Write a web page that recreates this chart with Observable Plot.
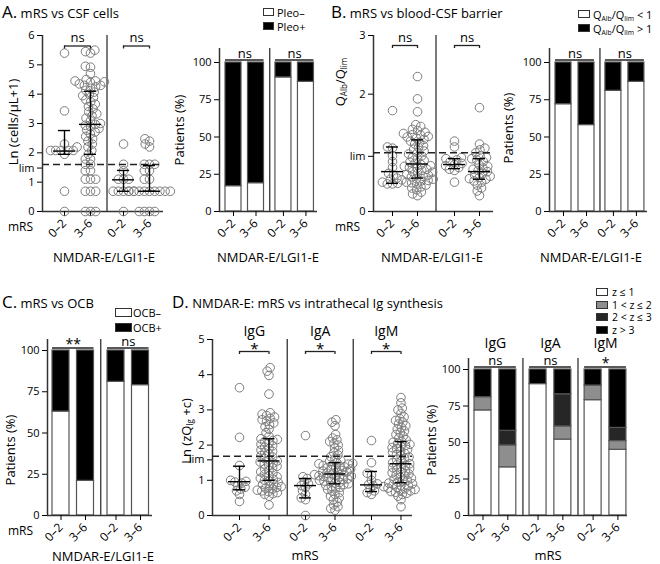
<!DOCTYPE html>
<html><head><meta charset="utf-8">
<script src="https://cdn.jsdelivr.net/npm/d3@7"></script>
<script src="https://cdn.jsdelivr.net/npm/@observablehq/plot@0.6"></script>
<style>
html,body{margin:0;padding:0;background:#fff;}
#fig{position:relative;width:660px;height:564px;overflow:hidden;font-family:"Open Sans",sans-serif;color:#000;}
.t{position:absolute;white-space:nowrap;line-height:1;}
.sw{position:absolute;box-sizing:border-box;border:1px solid #333;}
sub{font-size:0.62em;vertical-align:-0.3em;line-height:0;}
</style></head><body><div id="fig"></div>
<script>
// ---------------- DATA ----------------
const mrsLabels = ["0–2", "3–6"];
const igLabels = ["IgG", "IgA", "IgM"];

// A. Ln(cells/µL+1): NMDAR-E 0–2, NMDAR-E 3–6, LGI1-E 0–2, LGI1-E 3–6
const cellsN02 = [0, 0.69, 1.95, 2.08, 2.08, 2.08, 2.08, 2.08, 2.2, 2.3, 3.43, 5.4];
const cellsN36 = [0, 0, 0, 0.69, 0.69, 0.69, 1.1, 1.1, 1.1, 1.39, 1.39, 1.61, 1.61, 1.79, 1.79, 1.95,
  2.08, 2.2, 2.3, 2.4, 2.48, 2.56, 2.64, 2.71, 2.77, 2.83, 2.89, 2.94, 2.97,
  3.0, 3.09, 3.18, 3.26, 3.33, 3.4, 3.5, 3.58, 3.66, 3.74, 3.81, 3.89, 3.95, 4.0, 4.07,
  4.13, 4.2, 4.25, 4.3, 4.3, 4.35, 4.4, 4.42, 4.45, 4.45, 4.5, 4.7, 4.92, 4.95, 5.4, 5.45, 5.5];
const cellsL02 = [0, 0.69, 0.69, 0.69, 0.69, 0.69, 1.1, 1.1, 1.1, 1.39, 1.61, 2.3];
const cellsL36 = [0, 0, 0, 0, 0.69, 0.69, 0.69, 0.69, 0.69, 0.69, 0.69, 0.69, 0.69, 1.1, 1.1, 1.39, 1.39,
  1.61, 1.61, 1.61, 2.2, 2.3, 2.4, 2.48];
const cellsMedian = [2.06, 2.97, 1.08, 0.69];
const cellsQ1 = [1.95, 1.95, 0.69, 0.69];
const cellsQ3 = [2.76, 4.1, 1.4, 1.57];
const cellsLim = 1.6;
const cellsTicks = [0, 1, 2, 3, 4, 5, 6];
const cellsSig = ["ns", "ns"];

const pleoNeg = [17, 19, 90, 87];
const pleoPos = [83, 81, 10, 13];
const pleoSig = ["ns", "ns"];
const pleoLegend = ["Pleo–", "Pleo+"];

// B. QAlb/Qlim
const qN02 = [1.72, 1.1, 1.08, 0.95, 0.85, 0.75, 0.65, 0.62, 0.55, 0.5, 0.48, 0.47, 0.47];
const qN36 = [0.27, 0.3, 0.33, 0.37, 0.4, 0.42, 0.45, 0.47, 0.49, 0.5, 0.52, 0.53, 0.54, 0.55, 0.56,
  0.57, 0.59, 0.6, 0.62, 0.63, 0.65, 0.67, 0.68, 0.7, 0.72, 0.74, 0.75, 0.77, 0.78, 0.8,
  0.82, 0.84, 0.87, 0.9, 0.92, 0.95, 0.98, 1.0, 1.03, 1.06, 1.09, 1.12, 1.15, 1.18, 1.2,
  1.23, 1.25, 1.27, 1.28, 1.3, 1.31, 1.33, 1.35, 1.38, 1.4, 1.45, 1.48, 1.7, 1.92, 2.3];
const qL02 = [1.2, 1.1, 0.92, 0.9, 0.88, 0.85, 0.82, 0.8, 0.78, 0.75, 0.72, 0.7, 0.5];
const qL36 = [1.77, 1.15, 1.08, 1.05, 1.0, 0.95, 0.92, 0.9, 0.88, 0.85, 0.8, 0.77, 0.74, 0.72, 0.7,
  0.68, 0.65, 0.62, 0.6, 0.58, 0.56, 0.55, 0.52, 0.5, 0.45, 0.4, 0.35, 0.27];
const qMedian = [0.68, 0.81, 0.8, 0.68];
const qQ1 = [0.48, 0.57, 0.73, 0.55];
const qQ3 = [1.1, 1.22, 0.9, 0.9];
const qLim = 1.0;
const qTicks = [0, 2, 3];
const qSig = ["ns", "ns"];

const qBelow = [72, 58, 81, 87];
const qAbove = [28, 42, 19, 13];
const qBarSig = ["ns", "ns"];
const qLegend = ["Q<sub>Alb</sub>/Q<sub>lim</sub> &lt; 1", "Q<sub>Alb</sub>/Q<sub>lim</sub> &gt; 1"];

// C. OCB
const ocbNeg = [63, 21, 81, 79];
const ocbPos = [37, 79, 19, 21];
const ocbSig = ["**", "ns"];
const ocbLegend = ["OCB–", "OCB+"];

// D. Ln(zQIg + c): IgG 0–2, IgG 3–6, IgA 0–2, IgA 3–6, IgM 0–2, IgM 3–6
const igG02 = [3.63, 2.22, 1.42, 1.0, 0.97, 0.95, 0.92, 0.85, 0.8, 0.75, 0.7, 0.6, 0.4];
const igG36 = [0.3, 0.55, 0.6, 0.62, 0.65, 0.68, 0.7, 0.72, 0.75, 0.78, 0.8, 0.82, 0.85, 0.88, 0.9, 0.94, 0.98,
  1.0, 1.03, 1.06, 1.1, 1.13, 1.17, 1.2, 1.24, 1.28, 1.32, 1.36, 1.4, 1.43, 1.46, 1.49, 1.52, 1.55,
  1.58, 1.62, 1.66, 1.7, 1.74, 1.78, 1.82, 1.86, 1.9, 1.94, 1.98, 2.02, 2.06, 2.1, 2.13, 2.16, 2.18,
  2.25, 2.35, 2.45, 2.52, 2.58, 2.63, 2.68, 2.72, 2.76, 2.8, 2.84, 2.88, 2.92, 3.45, 3.98, 4.1, 4.2];
const igA02 = [2.27, 1.1, 1.05, 0.95, 0.9, 0.85, 0.8, 0.7, 0.6, 0.5, 0.45, 0];
const igA36 = [0.15, 0.2, 0.25, 0.3, 0.38, 0.45, 0.5, 0.55, 0.6, 0.65, 0.7, 0.74, 0.78, 0.8, 0.83, 0.86, 0.88,
  0.9, 0.92, 0.94, 0.96, 0.98, 1.0, 1.02, 1.04, 1.06, 1.08, 1.1, 1.11, 1.12, 1.13, 1.15, 1.16, 1.18,
  1.2, 1.22, 1.24, 1.26, 1.28, 1.3, 1.32, 1.34, 1.36, 1.38, 1.4, 1.42, 1.44, 1.46, 1.47, 1.48, 1.5,
  1.53, 1.57, 1.62, 1.67, 1.72, 1.78, 1.85, 1.92, 2.0, 2.05, 2.1, 2.15, 2.2, 2.3, 2.55, 2.65, 2.72];
const igM02 = [2.13, 1.5, 1.2, 1.15, 1.0, 0.9, 0.88, 0.85, 0.75, 0.7, 0.65, 0.6];
const igM36 = [0.25, 0.45, 0.55, 0.6, 0.63, 0.66, 0.68, 0.7, 0.72, 0.74, 0.76, 0.78, 0.8, 0.82, 0.84, 0.86, 0.88, 0.9, 0.92,
  0.95, 0.98, 1.0, 1.03, 1.06, 1.09, 1.12, 1.15, 1.18, 1.21, 1.24, 1.27, 1.3, 1.33, 1.36, 1.39, 1.42, 1.44, 1.47,
  1.5, 1.54, 1.58, 1.62, 1.66, 1.7, 1.73, 1.76, 1.8, 1.83, 1.87, 1.9, 1.93, 1.96, 1.99, 2.02, 2.05, 2.08, 2.1,
  2.15, 2.2, 2.25, 2.3, 2.35, 2.4, 2.45, 2.5, 2.55, 2.6, 2.65, 2.7, 2.75, 2.8, 2.9, 3.0, 3.05, 3.2, 3.35];
const igMedian = [0.96, 1.55, 0.85, 1.18, 0.87, 1.47];
const igQ1 = [0.73, 1.0, 0.5, 0.9, 0.68, 0.93];
const igQ3 = [1.4, 2.18, 1.05, 1.5, 1.25, 2.1];
const igLim = 1.68;
const igTicks = [0, 1, 2, 3, 4, 5];
const igSig = ["*", "*", "*"];

const zLe1 = [72, 33, 90, 52, 79, 45];
const z1to2 = [9, 15, 0, 9, 10, 6];
const z2to3 = [0, 10, 0, 22, 0, 9];
const zGt3 = [19, 42, 10, 17, 11, 40];
const zBarSig = ["ns", "ns", "*"];
const zLegend = ["z ≤ 1", "1 &lt; z ≤ 2", "2 &lt; z ≤ 3", "z &gt; 3"];

const pctTicks = [0, 25, 50, 75, 100];

// ---------------- HELPERS ----------------
const fig = document.getElementById("fig");
const plotStyle = {background: "transparent", overflow: "visible", fontFamily: '"Open Sans", sans-serif', fontSize: "12px", color: "#000"};

function txt(html, x, y, size = 13, anchor = "middle", rotate = 0) {
  const d = document.createElement("div");
  d.className = "t"; d.innerHTML = html;
  d.style.left = x + "px"; d.style.top = y + "px"; d.style.fontSize = size + "px";
  const ax = anchor === "start" ? "0" : anchor === "end" ? "-100%" : "-50%";
  d.style.transform = `translate(${ax},-50%)` + (rotate ? ` rotate(${rotate}deg)` : "");
  fig.appendChild(d);
}
function swatch(x, y, w, h, color) {
  const d = document.createElement("div");
  d.className = "sw";
  Object.assign(d.style, {left: x + "px", top: (y - h / 2) + "px", width: w + "px", height: h + "px", background: color});
  fig.appendChild(d);
}

function geom(cfg) {
  const pyu = (cfg.B - cfg.refPx) / cfg.refVal;
  const ymax = (cfg.B - cfg.Ttop) / pyu;
  const xmin = (cfg.L - cfg.first) / cfg.step, xmax = (cfg.R - cfg.first) / cfg.step;
  const pos = i => Math.floor(i / 2) * cfg.groupOff + (i % 2);
  const svgLeft = cfg.L - 48, svgTop = cfg.Ttop - 36;
  return {pyu, ymax, xmin, xmax, pos, svgLeft, svgTop, width: cfg.R + 12 - svgLeft, height: cfg.B + 44 - svgTop};
}

function swarm(values, pyu, minDist) {
  const idx = values.map((v, i) => i).sort((a, b) => values[a] - values[b]);
  const placed = [], off = new Array(values.length);
  for (const i of idx) {
    const y = values[i] * pyu;
    const near = placed.filter(p => Math.abs(p.y - y) < minDist);
    const cands = [0];
    for (const p of near) {
      const dx = Math.sqrt(minDist * minDist - (p.y - y) ** 2);
      cands.push(p.x + dx, p.x - dx);
    }
    cands.sort((a, b) => Math.abs(a) - Math.abs(b) || a - b);
    let chosen = 0;
    for (const c of cands) {
      if (near.every(p => (p.x - c) ** 2 + (p.y - y) ** 2 >= minDist * minDist - 1e-6)) { chosen = c; break; }
    }
    placed.push({x: chosen, y}); off[i] = chosen;
  }
  return off;
}

function axesMarks(cfg, g, yTicks, yFmt) {
  const n = cfg.nCat;
  const tp = d3.range(n).map(g.pos);
  const lab = new Map(tp.map((p, i) => [p, mrsLabels[i % 2]]));
  const div = [];
  for (let k = 2; k < n; k += 2) div.push((g.pos(k - 1) + g.pos(k)) / 2);
  return [
    Plot.ruleX(div, {y1: 0, y2: g.ymax, stroke: "#333", strokeWidth: 1.3}),
    Plot.ruleX([g.xmin], {y1: 0, y2: g.ymax, stroke: "#333", strokeWidth: 1.5}),
    Plot.ruleY([0], {stroke: "#333", strokeWidth: 1.5}),
    Plot.axisY(yTicks, {tickFormat: yFmt, tickSize: 5, tickPadding: 3, fontSize: 11, label: null}),
    Plot.axisX(tp, {tickFormat: d => lab.get(d), tickRotate: -45, tickSize: 5, tickPadding: 5, fontSize: 12, label: null})
  ];
}

function render(cfg, g, marks) {
  const svg = Plot.plot({
    width: g.width, height: g.height,
    marginLeft: cfg.L - g.svgLeft, marginRight: g.svgLeft + g.width - cfg.R,
    marginTop: cfg.Ttop - g.svgTop, marginBottom: g.svgTop + g.height - cfg.B,
    x: {domain: [g.xmin, g.xmax]},
    y: {domain: [0, g.ymax]},
    style: plotStyle,
    marks
  });
  svg.style.position = "absolute";
  svg.style.left = g.svgLeft + "px";
  svg.style.top = g.svgTop + "px";
  fig.appendChild(svg);
}

function dotPanel(cfg) {
  const g = geom(cfg);
  const u = px => px / cfg.step;
  const pts = [];
  cfg.values.forEach((vals, i) => {
    const offs = swarm(vals, g.pyu, cfg.minDist);
    vals.forEach((v, j) => pts.push({x: g.pos(i) + u(offs[j]), y: v}));
  });
  const stats = cfg.values.map((_, i) => ({x: g.pos(i), med: cfg.med[i], q1: cfg.q1[i], q3: cfg.q3[i]}));
  const bY = g.ymax - cfg.sigBelow / g.pyu, cY = bY - 3 / g.pyu;
  const sigs = cfg.sig.map((s, k) => ({a: g.pos(2 * k), b: g.pos(2 * k + 1), s}));
  const ends = sigs.flatMap(d => [d.a, d.b]);
  const marks = [
    ...axesMarks(cfg, g, cfg.yTicks, d => String(d)),
    Plot.axisY([cfg.lim], {tickFormat: () => "lim", tickSize: 5, tickPadding: 3, fontSize: 11, label: null, dy: 3.5}),
    Plot.dot(pts, {x: "x", y: "y", r: 4.3, stroke: "#7d7d7d", strokeWidth: 1, fill: "none"}),
    Plot.ruleY([cfg.lim], {stroke: "#222", strokeWidth: 1.5, strokeDasharray: "7,4"}),
    Plot.ruleX(stats, {x: "x", y1: "q1", y2: "q3", stroke: "#000", strokeWidth: 1.4}),
    Plot.ruleY(stats, {y: "med", x1: d => d.x - u(11), x2: d => d.x + u(11), stroke: "#000", strokeWidth: 1.4}),
    Plot.ruleY(stats, {y: "q1", x1: d => d.x - u(6), x2: d => d.x + u(6), stroke: "#000", strokeWidth: 1.4}),
    Plot.ruleY(stats, {y: "q3", x1: d => d.x - u(6), x2: d => d.x + u(6), stroke: "#000", strokeWidth: 1.4}),
    Plot.ruleY(sigs, {y: bY, x1: "a", x2: "b", stroke: "#222", strokeWidth: 1.3}),
    Plot.ruleX(ends, {x: d => d, y1: cY, y2: bY, stroke: "#222", strokeWidth: 1.3}),
    Plot.text(sigs.filter(d => d.s === "ns"), {x: d => (d.a + d.b) / 2, y: bY, text: "s", dy: -8, fontSize: 13}),
    Plot.text(sigs.filter(d => d.s !== "ns"), {x: d => (d.a + d.b) / 2, y: bY, text: "s", dy: -2, fontSize: 15})
  ];
  if (cfg.headers) marks.push(Plot.text(cfg.headers.map((h, k) => ({x: (g.pos(2 * k) + g.pos(2 * k + 1)) / 2, h})), {x: "x", y: g.ymax, text: "h", dy: cfg.headerDy, fontSize: 14}));
  render(cfg, g, marks);
}

function barPanel(cfg) {
  const g = geom(cfg);
  const hw = cfg.barW / 2 / cfg.step;
  const marks = [];
  const base = new Array(cfg.nCat).fill(0);
  cfg.series.forEach(s => {
    const rects = [];
    s.values.forEach((v, i) => {
      if (v > 0) rects.push({x1: g.pos(i) - hw, x2: g.pos(i) + hw, y1: base[i], y2: base[i] + v});
      base[i] += v;
    });
    marks.push(Plot.rect(rects, {x1: "x1", x2: "x2", y1: "y1", y2: "y2", fill: s.color, stroke: "#555", strokeWidth: 1.2}));
  });
  const sY = 100 + 2.5 / g.pyu;
  const sigs = cfg.sig.map((s, k) => ({a: g.pos(2 * k) - hw, b: g.pos(2 * k + 1) + hw, s}));
  marks.push(
    ...axesMarks(cfg, g, pctTicks, d => String(d)),
    Plot.ruleY(sigs, {y: sY, x1: "a", x2: "b", stroke: "#222", strokeWidth: 1.3}),
    Plot.text(sigs.filter(d => d.s === "ns"), {x: d => (d.a + d.b) / 2, y: sY, text: "s", dy: -6, fontSize: 13}),
    Plot.text(sigs.filter(d => d.s !== "ns"), {x: d => (d.a + d.b) / 2, y: sY, text: "s", dy: -3, fontSize: 14})
  );
  if (cfg.headers) marks.push(Plot.text(cfg.headers.map((h, k) => ({x: (g.pos(2 * k) + g.pos(2 * k + 1)) / 2, h})), {x: "x", y: g.ymax, text: "h", dy: cfg.headerDy, fontSize: 14}));
  render(cfg, g, marks);
}

// ---------------- PANELS ----------------
dotPanel({L: 42, R: 163, B: 211, Ttop: 35, refVal: 6, refPx: 35, first: 64, step: 26, groupOff: 2.27, nCat: 4,
  values: [cellsN02, cellsN36, cellsL02, cellsL36], med: cellsMedian, q1: cellsQ1, q3: cellsQ3,
  lim: cellsLim, yTicks: cellsTicks, sig: cellsSig, sigBelow: 10.5, minDist: 5.2});
barPanel({L: 219, R: 317, B: 211, Ttop: 48, refVal: 100, refPx: 62, first: 233, step: 22.5, groupOff: 2.22, nCat: 4, barW: 16,
  series: [{values: pleoNeg, color: "#fff"}, {values: pleoPos, color: "#000"}], sig: pleoSig});
dotPanel({L: 373, R: 493, B: 211, Ttop: 35, refVal: 3, refPx: 35, first: 392, step: 25, groupOff: 2.48, nCat: 4,
  values: [qN02, qN36, qL02, qL36], med: qMedian, q1: qQ1, q3: qQ3,
  lim: qLim, yTicks: qTicks, sig: qSig, sigBelow: 10, minDist: 5.2});
barPanel({L: 549, R: 647, B: 211, Ttop: 48, refVal: 100, refPx: 62, first: 563, step: 23, groupOff: 2.17, nCat: 4, barW: 16,
  series: [{values: qBelow, color: "#fff"}, {values: qAbove, color: "#000"}], sig: qBarSig});
barPanel({L: 47, R: 152, B: 515, Ttop: 339, refVal: 100, refPx: 350, first: 60.5, step: 24.5, groupOff: 2.245, nCat: 4, barW: 17,
  series: [{values: ocbNeg, color: "#fff"}, {values: ocbPos, color: "#000"}], sig: ocbSig});
dotPanel({L: 212, R: 412, B: 515, Ttop: 339, refVal: 5, refPx: 339, first: 239, step: 29.5, groupOff: 2.237, nCat: 6,
  values: [igG02, igG36, igA02, igA36, igM02, igM36], med: igMedian, q1: igQ1, q3: igQ3,
  lim: igLim, yTicks: igTicks, sig: igSig, sigBelow: 12, minDist: 4.6, headers: igLabels, headerDy: -8});
barPanel({L: 468, R: 627, B: 515, Ttop: 358, refVal: 100, refPx: 369, first: 482.5, step: 24.8, groupOff: 2.22, nCat: 6, barW: 17,
  series: [{values: zLe1, color: "#fff"}, {values: z1to2, color: "#8e8e8e"}, {values: z2to3, color: "#262626"}, {values: zGt3, color: "#000"}],
  sig: zBarSig, headers: igLabels, headerDy: -15});

// ---------------- TEXT ----------------
const big = s => `<span style="font-size:17px">${s}</span>`;
txt(big("A.") + " mRS vs CSF cells", 2, 11, 13, "start");
txt(big("B.") + " mRS vs blood-CSF barrier", 331, 11, 13, "start");
txt(big("C.") + " mRS vs OCB", 2, 301, 13, "start");
txt(big("D.") + " NMDAR-E: mRS vs intrathecal Ig synthesis", 172, 301, 13, "start");

txt("Ln (cells/µL+1)", 13, 122, 13, "middle", -90);
txt("Patients (%)", 179, 130, 13, "middle", -90);
txt("Q<sub>Alb</sub>/Q<sub>lim</sub>", 340, 82, 13, "middle", -90);
txt("Patients (%)", 508, 128, 13, "middle", -90);
txt("Patients (%)", 10, 450, 13, "middle", -90);
txt("Ln (zQ<sub>Ig</sub> +c)", 186, 431, 13, "middle", -90);
txt("Patients (%)", 431, 440, 13, "middle", -90);

txt("mRS", 8, 227, 12, "start");
txt("mRS", 335, 227, 12, "start");
txt("mRS", 8, 531, 12, "start");

txt("NMDAR-E/LGI1-E", 104, 257, 13);
txt("NMDAR-E/LGI1-E", 268, 257, 13);
txt("NMDAR-E/LGI1-E", 432, 257, 13);
txt("NMDAR-E/LGI1-E", 591, 257, 13);
txt("NMDAR-E/LGI1-E", 103, 556, 13);
txt("mRS", 305, 555, 13);
txt("mRS", 548, 555, 13);

// legends
[["#fff", pleoLegend[0], 12], ["#000", pleoLegend[1], 26]].forEach(([c, l, y]) => { swatch(263, y, 11, 8, c); txt(l, 277, y, 11, "start"); });
[["#fff", qLegend[0], 14], ["#000", qLegend[1], 28]].forEach(([c, l, y]) => { swatch(578, y, 12, 8, c); txt(l, 593, y, 11, "start"); });
[["#fff", ocbLegend[0], 312], ["#000", ocbLegend[1], 327]].forEach(([c, l, y]) => { swatch(115, y, 17, 9, c); txt(l, 133, y, 11, "start"); });
[["#fff", zLegend[0], 292], ["#8e8e8e", zLegend[1], 304.5], ["#262626", zLegend[2], 317], ["#000", zLegend[3], 329.5]].forEach(([c, l, y]) => { swatch(596, y, 12, 8, c); txt(l, 612, y, 10.5, "start"); });
</script></body></html>
